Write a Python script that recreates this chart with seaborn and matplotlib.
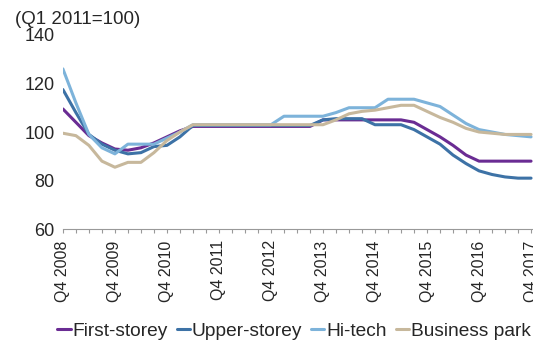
import seaborn as sns
import pandas as pd
import matplotlib.pyplot as plt

sns.set_style('white')
plt.rcParams['font.family'] = ['Liberation Sans', 'DejaVu Sans']

# quarterly index, Q4 2008 .. Q4 2017
first_storey = [109.5, 104, 98.5, 95.5, 93, 92.5, 93.5, 95.5, 98, 100.5,
                102.3, 102.3, 102.3, 102.3, 102.3, 102.3, 102.3, 102.3, 102.3, 102.3,
                105, 105, 105, 105, 105, 105, 105, 104, 101, 98,
                94.5, 90.5, 88, 88, 88, 88, 88]
upper_storey = [117.5, 108, 99, 95, 92.5, 91, 91.5, 94, 94.5, 98,
                102.7, 102.7, 102.7, 102.7, 102.7, 102.7, 102.7, 102.7, 102.7, 102.7,
                105, 105.5, 105.5, 105.5, 103, 103, 103, 101, 98, 95,
                90.5, 87, 84, 82.5, 81.5, 81, 81]
hi_tech = [126, 112, 99, 93.5, 91, 95, 95, 95, 97.5, 100,
           103, 103, 103, 103, 103, 103, 103, 106.5, 106.5, 106.5,
           106.5, 108, 110, 110, 110, 113.5, 113.5, 113.5, 112, 110.5,
           107, 103.5, 101, 100, 99, 98.5, 98]
business_park = [99.5, 98.5, 94.5, 88, 85.5, 87.5, 87.5, 91.5, 96.5, 100,
                 103, 103, 103, 103, 103, 103, 103, 103, 103, 103,
                 103, 105, 107.5, 108.5, 109, 110, 111, 111, 108.5, 106,
                 104, 101.5, 100, 99.5, 99, 99, 99]
series_names = ['First-storey', 'Upper-storey', 'Hi-tech', 'Business park']
tick_labels = ['Q4 2008', 'Q4 2009', 'Q4 2010', 'Q4 2011', 'Q4 2012',
               'Q4 2013', 'Q4 2014', 'Q4 2015', 'Q4 2016', 'Q4 2017']
colors = ['#6a2c93', '#3d72a6', '#7db3da', '#c7b89c']

frames = []
for name, vals in zip(series_names, [first_storey, upper_storey, hi_tech, business_park]):
    frames.append(pd.DataFrame({'q': range(len(vals)), 'value': vals, 'type': name}))
df = pd.concat(frames)

fig = plt.figure(figsize=(5.33, 3.42), dpi=100)
ax = fig.add_axes([0.118, 0.330, 0.882, 0.568])

sns.lineplot(data=df, x='q', y='value', hue='type', hue_order=series_names,
             palette=colors, linewidth=2.2, ax=ax)

ax.set_xlim(0, 36.15)
ax.set_ylim(60, 140)
ax.set_yticks([60, 80, 100, 120, 140])
ax.tick_params(axis='y', labelsize=13, length=0, pad=6)
ax.set_xticks(range(0, 37, 4))
ax.set_xticklabels(tick_labels, rotation=90, fontsize=11.5)
ax.set_xticks(range(0, 37), minor=True)
ax.tick_params(axis='x', which='both', direction='out', length=3, color='#999999',
               width=0.8, bottom=True, pad=5)
ax.set_xlabel('')
ax.set_ylabel('')
for s in ['top', 'right', 'left']:
    ax.spines[s].set_visible(False)
ax.spines['bottom'].set_color('#999999')
ax.spines['bottom'].set_linewidth(0.8)

fig.text(0.028, 1 - 20 / 342, '(Q1 2011=100)', fontsize=13.5, va='center', ha='left')

ax.legend(loc='center', bbox_to_anchor=(294 / 533, 1 - 331 / 342),
          bbox_transform=fig.transFigure, ncol=4, frameon=False, fontsize=13.8,
          handlelength=0.7, handletextpad=0.1, columnspacing=0.45, borderaxespad=0,
          borderpad=0)

fig.savefig('out.png', dpi=100)
